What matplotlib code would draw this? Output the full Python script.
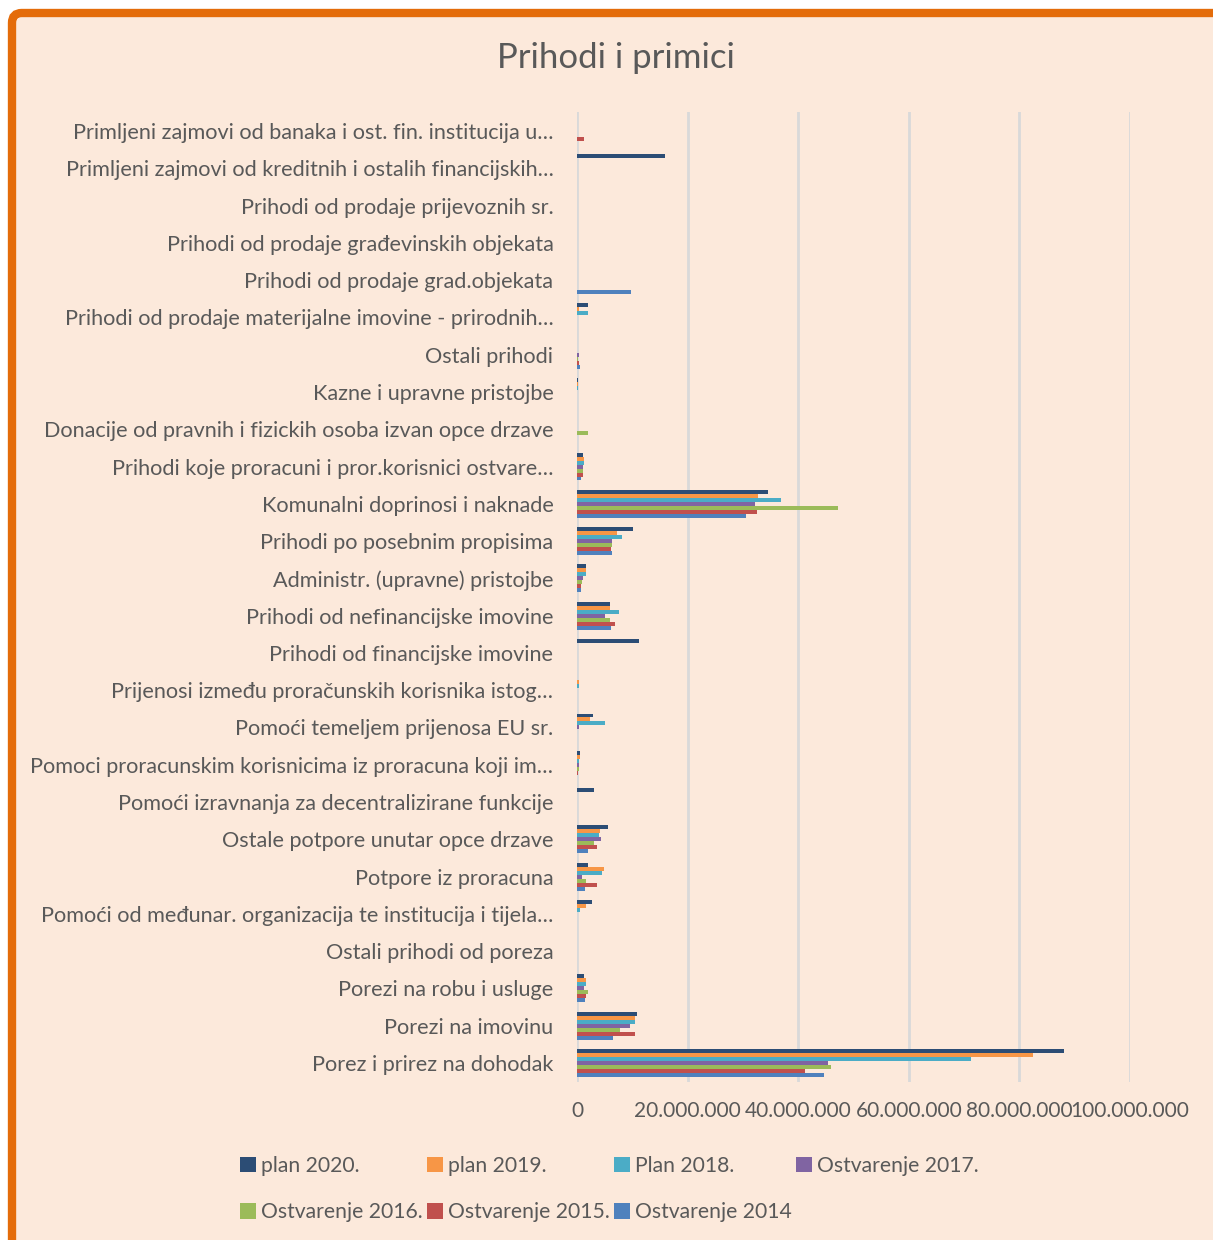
#!/usr/bin/env python3
# -*- coding: utf-8 -*-

import numpy as np
import matplotlib
matplotlib.use("Agg")
import matplotlib.pyplot as plt
from matplotlib.patches import FancyBboxPatch
from matplotlib.ticker import FuncFormatter

plt.rcParams['font.family'] = ['Lato', 'DejaVu Sans']

categories = [
    "Primljeni zajmovi od banaka i ost. fin. institucija u…",
    "Primljeni zajmovi od kreditnih i ostalih financijskih…",
    "Prihodi od prodaje prijevoznih sr.",
    "Prihodi od prodaje građevinskih objekata",
    "Prihodi od prodaje grad.objekata",
    "Prihodi od prodaje materijalne imovine - prirodnih…",
    "Ostali prihodi",
    "Kazne i upravne pristojbe",
    "Donacije od pravnih i fizickih osoba izvan opce drzave",
    "Prihodi koje proracuni i pror.korisnici ostvare…",
    "Komunalni doprinosi i naknade",
    "Prihodi po posebnim propisima",
    "Administr. (upravne) pristojbe",
    "Prihodi od nefinancijske imovine",
    "Prihodi od financijske imovine",
    "Prijenosi između proračunskih korisnika istog…",
    "Pomoći temeljem prijenosa EU sr.",
    "Pomoci proracunskim korisnicima iz proracuna koji im…",
    "Pomoći izravnanja za decentralizirane funkcije",
    "Ostale potpore unutar opce drzave",
    "Potpore iz proracuna",
    "Pomoći od međunar. organizacija te institucija i tijela…",
    "Ostali prihodi od poreza",
    "Porezi na robu i usluge",
    "Porezi na imovinu",
    "Porez i prirez na dohodak",
]

series_names = ["plan 2020.", "plan 2019.", "Plan 2018.", "Ostvarenje 2017.",
                "Ostvarenje 2016.", "Ostvarenje 2015.", "Ostvarenje 2014"]
series_colors = ["#2C4D75", "#F79646", "#4BACC6", "#8064A2",
                 "#9BBB59", "#C0504D", "#4F81BD"]

# values in millions, same order as categories (top to bottom)
plan_2020 = [0, 15.9, 0, 0, 0, 1.9, 0.05, 0.2, 0, 1.0, 34.5, 10.2, 1.7, 6.0, 11.2,
             0, 2.9, 0.6, 3.0, 5.6, 1.9, 2.7, 0, 1.3, 10.9, 88.1]
plan_2019 = [0, 0, 0, 0, 0, 0.4, 0.05, 0.1, 0, 1.3, 32.8, 7.3, 1.6, 5.9, 0,
             0.3, 2.3, 0.6, 0, 4.2, 4.8, 1.7, 0, 1.6, 10.4, 82.4]
plan_2018 = [0, 0, 0, 0, 0, 1.9, 0, 0.1, 0, 1.2, 36.8, 8.2, 1.6, 7.6, 0,
             0.4, 5.1, 0.4, 0, 3.9, 4.6, 0.5, 0, 1.6, 10.4, 71.2]
ost_2017 = [0, 0, 0, 0, 0, 0, 0.3, 0, 0, 1.0, 32.1, 6.4, 1.0, 5.0, 0,
            0, 0.4, 0.3, 0, 4.3, 0.9, 0, 0, 1.3, 9.5, 45.4]
ost_2016 = [0, 0, 0, 0, 0, 0, 0.2, 0, 2.0, 1.0, 47.2, 6.3, 0.9, 5.9, 0,
            0, 0, 0.4, 0, 3.1, 1.7, 0, 0, 1.9, 7.7, 45.9]
ost_2015 = [1.3, 0, 0, 0, 0, 0, 0.3, 0, 0, 1.1, 32.6, 6.1, 0.8, 6.9, 0,
            0, 0, 0.2, 0, 3.7, 3.7, 0, 0, 1.6, 10.5, 41.3]
ost_2014 = [0, 0, 0, 0, 9.8, 0, 0.5, 0, 0, 0.8, 30.5, 6.4, 0.7, 6.2, 0,
            0, 0, 0, 0, 1.9, 1.5, 0, 0, 1.5, 6.5, 44.6]

series = [plan_2020, plan_2019, plan_2018, ost_2017, ost_2016, ost_2015, ost_2014]

text_color = "#595959"
bg = "#FCE9DB"

fig = plt.figure(figsize=(12.13, 12.40), dpi=100)
fig.patch.set_facecolor("white")

# orange rounded frame (right/bottom edges run off the picture)
frame = FancyBboxPatch((12 / 1213, -0.05), 1.2, 1.05 - 13 / 1240,
                       boxstyle="round,pad=0,rounding_size=0.008",
                       transform=fig.transFigure, facecolor=bg,
                       edgecolor="#E46C0A", linewidth=6, zorder=-5)
fig.patches.append(frame)

ax = fig.add_axes([577 / 1213, 1 - 1081.6 / 1240, (1130 - 577) / 1213, (1081.6 - 112.4) / 1240])
ax.set_facecolor("none")
ax.set_zorder(2)

n = len(categories)
y = np.arange(n)
h = 0.107
for j, (vals, name, col) in enumerate(zip(series, series_names, series_colors)):
    offs = (j - 3) * h
    ax.barh(y + offs, np.array(vals) * 1e6, height=h, color=col, label=name,
            linewidth=0, zorder=3)

ax.set_ylim(n - 0.5, -0.5)
ax.set_xlim(0, 100e6)
ax.set_yticks(y)
ax.set_yticklabels(categories)
ax.set_xticks(np.arange(0, 100e6 + 1, 20e6))
ax.xaxis.set_major_formatter(FuncFormatter(lambda v, p: f"{int(v):,}".replace(",", ".")))
ax.tick_params(axis='y', length=0, pad=17, labelsize=15.6, labelcolor=text_color)
ax.tick_params(axis='x', length=0, pad=14, labelsize=15, labelcolor=text_color)
ax.grid(axis='x', color="#D9D9D9", linewidth=2, zorder=0)
ax.set_axisbelow(True)
for s in ax.spines.values():
    s.set_visible(False)

fig.text(616 / 1213, 1 - 58 / 1240, "Prihodi i primici", ha='center', va='center',
         fontsize=25, color=text_color)

# legend filled row by row like the original
handles, labels = ax.get_legend_handles_labels()
order = [0, 4, 1, 5, 2, 6, 3]
leg = fig.legend([handles[i] for i in order], [labels[i] for i in order],
                 loc='center left', bbox_to_anchor=(221 / 1213, 1 - 1189 / 1240),
                 ncol=4, frameon=False, fontsize=15.2, handlelength=0.75,
                 handleheight=0.75, handletextpad=0.25, columnspacing=0.2,
                 labelspacing=1.25, labelcolor=text_color)

plt.savefig("out.png", dpi=100, facecolor=fig.get_facecolor())
